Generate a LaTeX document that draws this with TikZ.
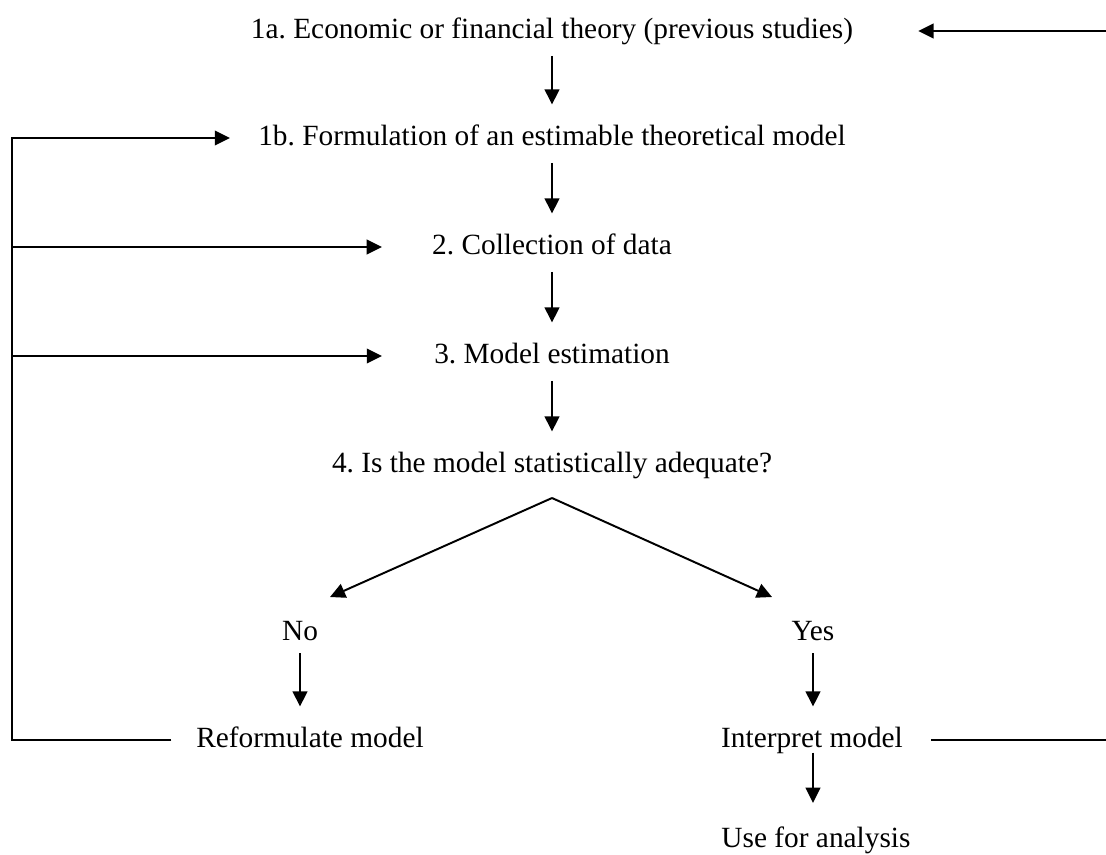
\documentclass[tikz,border=0pt]{standalone}
\usepackage{fontspec}
\setmainfont{Liberation Serif}
\frenchspacing
\usetikzlibrary{arrows.meta}
\tikzset{
  stage/.style={inner sep=2pt, text height=9pt, text depth=3pt, font=\fontsize{12}{14}\selectfont},
  flow/.style={line width=0.8pt, -{Triangle[length=6.2pt,width=6pt]}},
  down/.style={flow, shorten <=2pt, shorten >=5.5pt},
  link/.style={line width=0.8pt},
}
\begin{document}
\begin{tikzpicture}[x=0.409pt,y=-0.409pt]
\useasboundingbox (0,0) rectangle (1106,854);
\node [stage] (theory) at (552,31) {1a. Economic or financial theory (previous studies)};
\node [stage] (formul) at (552,138) {1b. Formulation of an estimable theoretical model};
\node [stage] (data) at (552,247) {2. Collection of data};
\node [stage] (estim) at (552,356) {3. Model estimation};
\node [stage] (adequate) at (552,465) {4. Is the model statistically adequate?};
\node [stage] (no) at (300,633) {No};
\node [stage] (yes) at (813,633) {Yes};
\node [stage] (reform) at (310,740) {Reformulate model};
\node [stage] (interp) at (812,740) {Interpret model};
\node [stage] (use) at (816,840) {Use for analysis};
\coordinate (split) at (552,498);
\coordinate (noend) at (330,597);
\coordinate (yesend) at (772,597);
\coordinate (leftrail) at (12,740);
\coordinate (rightedge) at (1106,740);

\draw [down] (theory.south) -- (formul.north);
\draw [down] (formul.south) -- (data.north);
\draw [down] (data.south) -- (estim.north);
\draw [down] (estim.south) -- (adequate.north);
\draw [flow] (split) -- (noend);
\draw [flow] (split) -- (yesend);
\draw [flow, shorten >=5.5pt] (no.south) -- (reform.north -| no.south);
\draw [flow, shorten >=5.5pt] (yes.south) -- (interp.north -| yes.south);
\draw [flow, shorten <=-3pt, shorten >=7pt] (interp.south -| yes.south) -- (use.north -| yes.south);

\draw [flow, shorten <=8pt, shorten >=9.4pt] (reform.west) -- (leftrail) |- (formul.west);
\draw [flow, shorten >=18.4pt] (leftrail |- data.west) -- (data.west);
\draw [flow, shorten >=19.2pt] (leftrail |- estim.west) -- (estim.west);
\draw [flow, shorten >=24.5pt] (rightedge |- theory.east) -- (theory.east);
\draw [link, shorten <=9.4pt] (interp.east) -- (rightedge);
\end{tikzpicture}
\end{document}
